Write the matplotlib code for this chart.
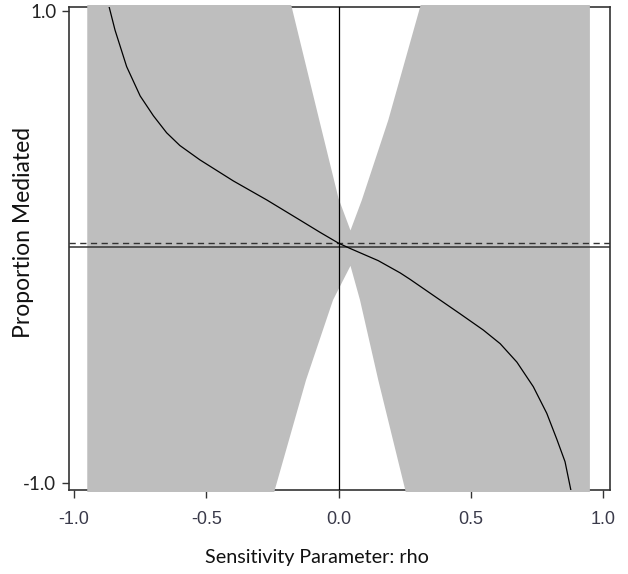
import matplotlib
matplotlib.use("Agg")
import matplotlib.pyplot as plt
from matplotlib.patches import Rectangle

# ---- data ----
rho_est = [-0.90, -0.867, -0.845, -0.801, -0.750, -0.700, -0.650, -0.600, -0.524, -0.398,
           -0.271, -0.146, -0.070, 0.0, 0.043, 0.150, 0.233, 0.270, 0.358, 0.459, 0.547,
           0.611, 0.674, 0.736, 0.787, 0.825, 0.856, 0.878, 0.89]
prop_med = [1.20, 1.016, 0.919, 0.764, 0.640, 0.556, 0.484, 0.430, 0.369, 0.280,
            0.199, 0.114, 0.062, 0.016, -0.006, -0.058, -0.110, -0.137, -0.205, -0.283, -0.352,
            -0.410, -0.488, -0.592, -0.705, -0.815, -0.910, -1.030, -1.10]

rho_upper = [-0.95, -0.20, -0.177, -0.073, 0.0, 0.045, 0.088, 0.188, 0.308, 0.33, 0.95]
ci_upper = [1.50, 1.12, 1.016, 0.538, 0.205, 0.070, 0.199, 0.538, 1.016, 1.12, 1.50]

rho_lower = [-0.95, -0.26, -0.240, -0.123, -0.021, 0.045, 0.081, 0.150, 0.251, 0.27, 0.95]
ci_lower = [-1.50, -1.12, -1.025, -0.564, -0.225, -0.080, -0.225, -0.564, -1.025, -1.12, -1.50]

est_at_zero = 0.017

xticks = [-1.0, -0.5, 0.0, 0.5, 1.0]
xticklabels = ["-1.0", "-0.5", "0.0", "0.5", "1.0"]
yticks = [-1.0, 1.0]
yticklabels = ["-1.0", "1.0"]

W, H = 628, 574
fig = plt.figure(figsize=(W / 100, H / 100), dpi=100)
ax = fig.add_axes([69 / W, 1 - 490 / H, (610 - 69) / W, (490 - 7) / H])
ax.set_xlim(-1.019, 1.026)
ax.set_ylim(-1.030, 1.017)

spine_col = "#333333"
for s in ax.spines.values():
    s.set_color(spine_col)
    s.set_linewidth(1.2)

# confidence band
poly_x = list(rho_upper) + list(reversed(rho_lower))
poly_y = list(ci_upper) + list(reversed(ci_lower))
band = ax.fill(poly_x, poly_y, color="#bebebe", lw=0, zorder=3)[0]
clip = Rectangle((0, -0.005), 1, 1.010, transform=ax.transAxes, facecolor="none")
band.set_clip_path(clip)

ax.axhline(0, color="#333333", lw=1.1, zorder=4)
ax.axhline(est_at_zero, color="#333333", lw=1.0, dashes=(4.5, 3.2), zorder=4)
ax.axvline(0, color="black", lw=0.9, zorder=4)
ax.plot(rho_est, prop_med, color="black", lw=0.9, zorder=5)

ax.set_xticks(xticks)
ax.set_xticklabels(xticklabels, fontfamily="Liberation Sans", fontsize=13, color="#3a3a4a")
ax.set_yticks(yticks)
ax.set_yticklabels(yticklabels, fontfamily="Lato", fontsize=13.5, color="#222222")
ax.tick_params(axis="x", direction="out", length=6, width=1.0, color=spine_col, pad=9)
ax.tick_params(axis="y", direction="out", length=5, width=1.0, color=spine_col, pad=4)

fig.text(24 / W, 1 - 232 / H, "Proportion Mediated", rotation=90, ha="center", va="center",
         fontfamily="Lato", fontsize=16.5, color="#111111")
fig.text(317 / W, 1 - 563 / H, "Sensitivity Parameter: rho", ha="center", va="baseline",
         fontfamily="Lato", fontsize=14.2, color="#111111")

fig.savefig("out.png", dpi=100)
